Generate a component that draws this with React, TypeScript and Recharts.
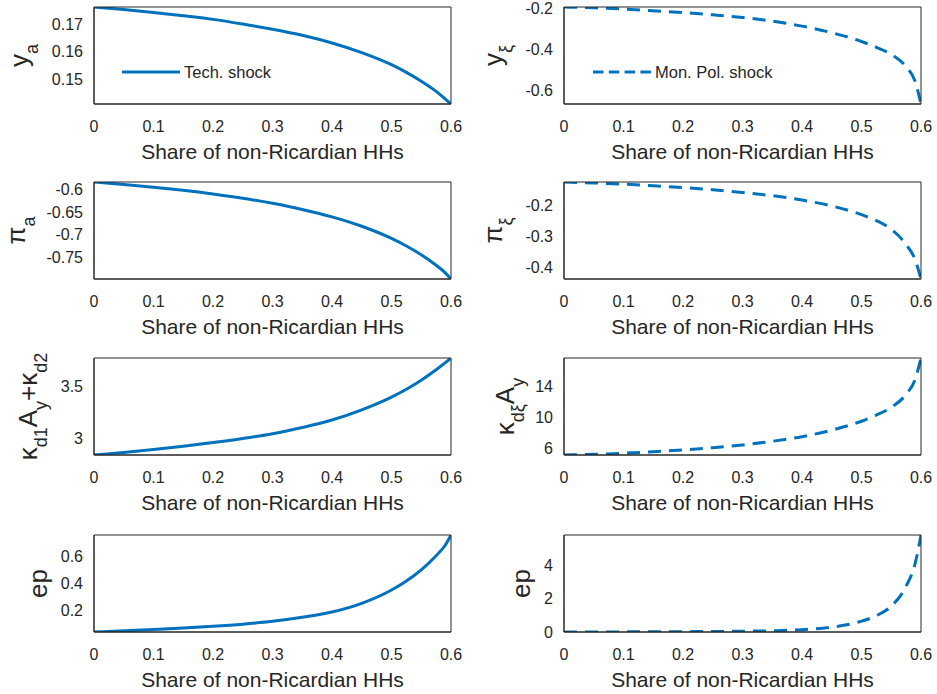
import { LineChart, Line, XAxis, YAxis, Legend } from 'recharts';

const INK = '#262626';
const BLUE = '#0072BD';
const FONT = '"Liberation Sans", Arial, Helvetica, sans-serif';
const CURVE_DASH = '13 8';
const LEGEND_DASH = '10.5 5.3';

// share of non-Ricardian households (x)
const share = [0, 0.05, 0.1, 0.15, 0.2, 0.25, 0.3, 0.35, 0.4, 0.45, 0.5, 0.525, 0.55, 0.575, 0.59, 0.6];
const shareTicks = [0, 0.1, 0.2, 0.3, 0.4, 0.5, 0.6];

// technology shock (solid)
const yTech = [0.1762, 0.1753, 0.1742, 0.173, 0.1717, 0.17, 0.1681, 0.1659, 0.1631, 0.1596, 0.1552, 0.1524, 0.1492, 0.1455, 0.1428, 0.1409];
const piTech = [-0.584, -0.5894, -0.5955, -0.6024, -0.6105, -0.6199, -0.6311, -0.6445, -0.661, -0.6817, -0.7085, -0.7251, -0.7445, -0.7677, -0.7838, -0.798];
const kappaTech = [2.845, 2.87, 2.898, 2.929, 2.964, 3.003, 3.048, 3.108, 3.18, 3.278, 3.4, 3.475, 3.562, 3.662, 3.727, 3.774];
const epTech = [0.035, 0.044, 0.054, 0.065, 0.078, 0.094, 0.115, 0.145, 0.185, 0.25, 0.35, 0.418, 0.502, 0.608, 0.684, 0.763];

// monetary policy shock (dashed)
const yMon = [-0.194, -0.198, -0.204, -0.212, -0.221, -0.232, -0.245, -0.263, -0.287, -0.319, -0.362, -0.39, -0.425, -0.485, -0.555, -0.666];
const piMon = [-0.126, -0.129, -0.133, -0.138, -0.144, -0.151, -0.16, -0.17, -0.184, -0.203, -0.231, -0.25, -0.278, -0.327, -0.375, -0.4375];
const kappaMon = [5.12, 5.21, 5.35, 5.54, 5.78, 6.07, 6.43, 6.9, 7.5, 8.35, 9.5, 10.3, 11.3, 13.0, 14.9, 17.71];
const epMon = [0, 0.004, 0.008, 0.013, 0.02, 0.03, 0.045, 0.075, 0.14, 0.29, 0.65, 0.98, 1.55, 2.75, 4.1, 5.83];

type Part = [string, 'm' | 's'];

const panels: {
  values: number[];
  ticks: number[];
  shown?: number[];
  label: Part[];
  labelOffset: number;
  dashed?: boolean;
  legend?: string;
}[] = [
  { values: yTech, ticks: [0.15, 0.16, 0.17], label: [['y', 'm'], ['a', 's']], labelOffset: -66, legend: 'Tech. shock' },
  { values: yMon, ticks: [-0.6, -0.4, -0.2], label: [['y', 'm'], ['ξ', 's']], labelOffset: -62, dashed: true, legend: 'Mon. Pol. shock' },
  { values: piTech, ticks: [-0.75, -0.7, -0.65, -0.6], label: [['π', 'm'], ['a', 's']], labelOffset: -69 },
  { values: piMon, ticks: [-0.4, -0.3, -0.2], label: [['π', 'm'], ['ξ', 's']], labelOffset: -62, dashed: true },
  {
    values: kappaTech,
    ticks: [3, 3.5],
    label: [['κ', 'm'], ['d1', 's'], ['A', 'm'], ['y', 's'], ['+κ', 'm'], ['d2', 's']],
    labelOffset: -57,
  },
  {
    values: kappaMon,
    ticks: [6, 8, 10, 12, 14, 16],
    shown: [6, 10, 14],
    label: [['κ', 'm'], ['dξ', 's'], ['A', 'm'], ['y', 's']],
    labelOffset: -50.5,
    dashed: true,
  },
  { values: epTech, ticks: [0.2, 0.4, 0.6], label: [['ep', 'm']], labelOffset: -47.5 },
  { values: epMon, ticks: [0, 2, 4], label: [['ep', 'm']], labelOffset: -34, dashed: true },
];

const rowTops = [7, 182, 358, 535];
const cols = [
  { left: 0, width: 468, plotLeft: 94, plotRight: 451, legendLeft: 122 },
  { left: 468, width: 469, plotLeft: 564, plotRight: 921, legendLeft: 125 },
];
const CHART_H = 166;
const PLOT_TOP = 7;
const PLOT_H = 97;
const SUB = 10;
const HAIR = 0.01; // size of the tick-only box axes

const yLabel = (parts: Part[], offset: number) => (props: any) => {
  const { x, y, width, height } = props.viewBox;
  const bx = x + width + offset;
  const cy = y + height / 2;
  let low = false;
  return (
    <text x={bx} y={cy} transform={`rotate(-90 ${bx} ${cy})`} textAnchor="middle" fill={INK} fontFamily={FONT} fontSize={26}>
      {parts.map(([t, kind], i) => {
        const isSub = kind === 's';
        const dy = isSub === low ? 0 : isSub ? SUB : -SUB;
        low = isSub;
        return (
          <tspan key={i} dy={dy} fontSize={isSub ? 18 : 26}>
            {t}
          </tspan>
        );
      })}
    </text>
  );
};

const xLabel = (props: any) => {
  const { x, y, width } = props.viewBox;
  return (
    <text x={x + width / 2} y={y + 55} textAnchor="middle" fill={INK} fontFamily={FONT} fontSize={21}>
      Share of non-Ricardian HHs
    </text>
  );
};

const LegendSwatch = ({ payload }: any) => (
  <div style={{ display: 'flex', alignItems: 'center', height: 20, fontFamily: FONT, fontSize: 16.5, color: INK, whiteSpace: 'nowrap' }}>
    {(payload || []).map((entry: any) => (
      <div key={entry.value} style={{ display: 'flex', alignItems: 'center' }}>
        <svg width={58} height={6} style={{ marginRight: 4 }}>
          <line
            x1={0}
            y1={3}
            x2={58}
            y2={3}
            stroke={entry.color}
            strokeWidth={3}
            strokeDasharray={entry.payload?.strokeDasharray ? LEGEND_DASH : undefined}
          />
        </svg>
        <span>{entry.value}</span>
      </div>
    ))}
  </div>
);

const Panel = ({ index }: { index: number }) => {
  const p = panels[index];
  const col = cols[index % 2];
  const row = Math.floor(index / 2);
  const data = share.map((s, i) => ({ s, v: p.values[i] }));
  const domain = [Math.min(...p.values), Math.max(...p.values)];
  const tickFmt = (v: number) => (p.shown && !p.shown.includes(v) ? '' : String(v));
  const axisLine = { stroke: INK, strokeWidth: 1 };
  const tickLine = { stroke: INK, strokeWidth: 1 };
  const tickFont = { fill: INK, fontSize: 16, fontFamily: FONT };

  // MATLAB-like box: inward ticks on all four sides come from mirrored hairline axes
  const boxX = (id: string, orientation: 'top' | 'bottom') => (
    <XAxis
      xAxisId={id}
      orientation={orientation}
      mirror
      dataKey="s"
      type="number"
      domain={[0, 0.6]}
      ticks={shareTicks}
      interval={0}
      allowDataOverflow
      height={HAIR}
      tickSize={4}
      axisLine={axisLine}
      tickLine={tickLine}
      tick={false}
    />
  );
  const boxY = (id: string, orientation: 'left' | 'right') => (
    <YAxis
      yAxisId={id}
      orientation={orientation}
      mirror
      type="number"
      domain={domain}
      ticks={p.ticks}
      interval={0}
      allowDataOverflow
      width={HAIR}
      tickSize={4}
      axisLine={axisLine}
      tickLine={tickLine}
      tick={false}
    />
  );

  return (
    <div style={{ position: 'absolute', left: col.left, top: rowTops[row] - PLOT_TOP }}>
      <LineChart
        width={col.width}
        height={CHART_H}
        data={data}
        margin={{ top: PLOT_TOP, right: col.left + col.width - col.plotRight, bottom: 0, left: 0 }}
      >
        <XAxis
          dataKey="s"
          type="number"
          domain={[0, 0.6]}
          ticks={shareTicks}
          interval={0}
          allowDataOverflow
          height={CHART_H - PLOT_TOP - PLOT_H}
          tickSize={0}
          tickMargin={16.5}
          axisLine={axisLine}
          tickLine={false}
          tick={tickFont}
          tickFormatter={(v: number) => String(v)}
          label={xLabel}
        />
        {boxX('xb', 'bottom')}
        {boxX('xt', 'top')}
        <YAxis
          type="number"
          domain={domain}
          ticks={p.ticks}
          interval={0}
          allowDataOverflow
          width={col.plotLeft - col.left}
          tickSize={0}
          tickMargin={11}
          axisLine={axisLine}
          tickLine={false}
          tick={tickFont}
          tickFormatter={tickFmt}
          label={yLabel(p.label, p.labelOffset)}
        />
        {boxY('yl', 'left')}
        {boxY('yr', 'right')}
        <Line
          dataKey="v"
          name={p.legend || 'series'}
          type="monotone"
          stroke={BLUE}
          strokeWidth={3}
          strokeDasharray={p.dashed ? CURVE_DASH : undefined}
          dot={false}
          activeDot={false}
          legendType="line"
          isAnimationActive={false}
        />
        {p.legend && (
          <Legend
            layout="horizontal"
            verticalAlign="middle"
            align="center"
            content={LegendSwatch}
            wrapperStyle={{ left: col.legendLeft, top: 62, width: 'auto', height: 20 }}
          />
        )}
      </LineChart>
    </div>
  );
};

export default function App() {
  return (
    <div style={{ position: 'absolute', left: 0, top: 0, width: 937, height: 694, background: '#fff' }}>
      {panels.map((_, i) => (
        <Panel key={i} index={i} />
      ))}
    </div>
  );
}
